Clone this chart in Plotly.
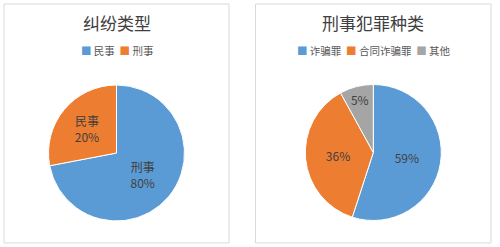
import plotly.graph_objects as go

W, H = 500, 247

# Left chart: 纠纷类型
left_title = "纠纷类型"
left_legend = ["民事", "刑事"]
left_shares = [72, 28]            # slice sizes as drawn
left_text_names = ["刑事", "民事"]  # labels printed on slices
left_text_pct = ["80%", "20%"]
left_colors = ["#5B9BD5", "#ED7D31"]

# Right chart: 刑事犯罪种类
right_title = "刑事犯罪种类"
right_legend = ["诈骗罪", "合同诈骗罪", "其他"]
right_shares = [55, 37, 8]
right_text_pct = ["59%", "36%", "5%"]
right_colors = ["#5B9BD5", "#ED7D31", "#A5A5A5"]

FONT = "Noto Sans CJK SC, Microsoft YaHei, sans-serif"
TXT = "#404040"


def px_x(x):
    return x / W


def px_y(y):
    return 1 - y / H


def pie_domain(cx, cy, r):
    return dict(x=[px_x(cx - r), px_x(cx + r)], y=[px_y(cy + r), px_y(cy - r)])


fig = go.Figure()

fig.add_trace(go.Pie(
    labels=left_legend, values=left_shares,
    text=[f"{n}<br>{p}" for n, p in zip(left_text_names, left_text_pct)],
    textinfo="text", textposition="inside", insidetextorientation="horizontal",
    sort=False, direction="clockwise", rotation=0,
    marker=dict(colors=left_colors, line=dict(color="white", width=1)),
    textfont=dict(family=FONT, size=12, color=TXT),
    domain=pie_domain(116.5, 153, 68), showlegend=False, hoverinfo="skip",
))

fig.add_trace(go.Pie(
    labels=right_legend, values=right_shares,
    text=right_text_pct,
    textinfo="text", textposition="inside", insidetextorientation="horizontal",
    sort=False, direction="clockwise", rotation=0,
    marker=dict(colors=right_colors, line=dict(color="white", width=1)),
    textfont=dict(family=FONT, size=12, color=TXT),
    domain=pie_domain(373.3, 152.5, 68), showlegend=False, hoverinfo="skip",
))

shapes = []
for (x0, x1) in [(4, 229), (255.5, 491)]:
    shapes.append(dict(type="rect", xref="paper", yref="paper",
                       x0=px_x(x0), x1=px_x(x1), y0=px_y(243), y1=px_y(4),
                       line=dict(color="#D9D9D9", width=1), fillcolor="rgba(0,0,0,0)"))

annotations = []
for cx, title in [(117, left_title), (373, right_title)]:
    annotations.append(dict(text=title, x=px_x(cx), y=px_y(23), xref="paper", yref="paper",
                            xanchor="center", yanchor="middle", showarrow=False,
                            font=dict(family=FONT, size=17, color="#404040")))


def legend_text(names, colors):
    parts = [f"<span style='color:{c}'>■</span> {n}" for n, c in zip(names, colors)]
    return "  ".join(parts)


for cx, names, cols in [(117, left_legend, left_colors), (373, right_legend, right_colors)]:
    annotations.append(dict(text=legend_text(names, cols), x=px_x(cx), y=px_y(50.5),
                            xref="paper", yref="paper", xanchor="center", yanchor="middle",
                            showarrow=False, font=dict(family=FONT, size=10.5, color="#595959")))

fig.update_layout(
    width=W, height=H, margin=dict(l=0, r=0, t=0, b=0),
    paper_bgcolor="white", plot_bgcolor="white",
    shapes=shapes, annotations=annotations,
)

fig.write_html("out.html")
